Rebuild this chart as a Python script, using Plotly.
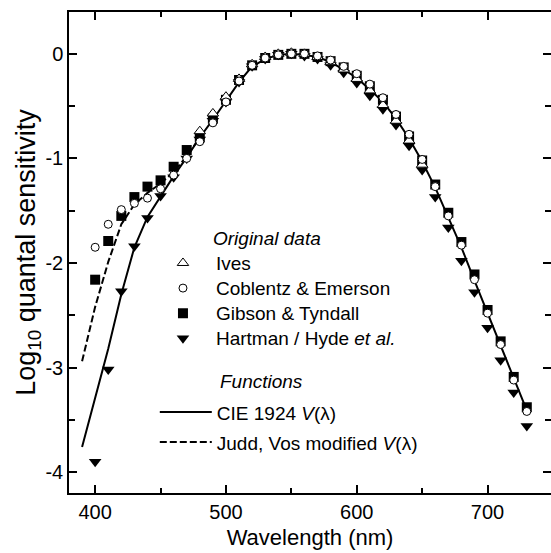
import plotly.graph_objects as go

# ---------------- data ----------------
wl_fn = list(range(390, 740, 10))
cie_1924 = [-3.76, -3.30, -2.82, -2.30, -1.85, -1.56, -1.36, -1.17, -0.99, -0.80,
            -0.63, -0.45, -0.27, -0.12, -0.05, -0.01, 0.00, -0.01, -0.03, -0.08,
            -0.15, -0.23, -0.34, -0.46, -0.62, -0.81, -1.03, -1.28, -1.57, -1.85,
            -2.17, -2.48, -2.78, -3.09, -3.41]

wl_judd = list(range(390, 490, 10))
judd_vos = [-2.94, -2.42, -1.99, -1.63, -1.44, -1.33, -1.24, -1.13, -0.98, -0.80]

wl_ives = list(range(480, 660, 10))
ives = [-0.74, -0.57, -0.41, -0.24, -0.10, -0.03, 0.00, 0.01, 0.00, -0.03,
        -0.08, -0.15, -0.24, -0.35, -0.49, -0.64, -0.83, -1.06]

wl_data = list(range(400, 740, 10))
coblentz = [-1.85, -1.63, -1.49, -1.43, -1.38, -1.29, -1.16, -1.00, -0.84, -0.66,
            -0.46, -0.26, -0.11, -0.04, -0.01, 0.00, 0.00, -0.02, -0.06, -0.12,
            -0.19, -0.29, -0.42, -0.58, -0.77, -1.01, -1.27, -1.55, -1.83, -2.16,
            -2.48, -2.78, -3.12, -3.42]
gibson = [-2.16, -1.79, -1.55, -1.37, -1.27, -1.21, -1.08, -0.92, -0.80, -0.62,
          -0.44, -0.25, -0.11, -0.04, -0.01, 0.00, 0.00, -0.03, -0.07, -0.13,
          -0.21, -0.31, -0.44, -0.60, -0.79, -1.02, -1.25, -1.52, -1.80, -2.11,
          -2.45, -2.75, -3.09, -3.38]
hartman = [-3.90, -3.02, -2.27, -1.84, -1.57, -1.36, -1.18, -1.00, -0.82, -0.64,
           -0.46, -0.27, -0.12, -0.05, -0.01, 0.00, -0.02, -0.05, -0.11, -0.18,
           -0.28, -0.40, -0.53, -0.68, -0.88, -1.11, -1.37, -1.66, -1.98, -2.28,
           -2.62, -2.93, -3.24, -3.56]

x_ticks = [400, 500, 600, 700]
y_ticks = [0, -1, -2, -3, -4]
y_ticktext = ["0", "-1", "-2", "-3", "-4"]

FONT = "Liberation Sans, Arial, Helvetica, sans-serif"


def big(t):
    return '<span style="font-size:19px">' + t + '</span>'


fig = go.Figure()

fig.add_trace(go.Scatter(x=wl_fn, y=cie_1924, mode="lines",
                         line=dict(color="black", width=2),
                         name=big("CIE 1924 <i>V</i>(λ)"), legend="legend2", legendrank=1))
fig.add_trace(go.Scatter(x=wl_judd, y=judd_vos, mode="lines",
                         line=dict(color="black", width=2, dash="7px,3px"),
                         name=big("Judd, Vos modified <i>V</i>(λ)"), legend="legend2",
                         legendrank=2))
fig.add_trace(go.Scatter(x=wl_data, y=gibson, mode="markers",
                         marker=dict(symbol="square", size=10, color="black",
                                     line=dict(width=0)),
                         name=big("Gibson & Tyndall"), legend="legend", legendrank=3))
fig.add_trace(go.Scatter(x=wl_data, y=hartman, mode="markers",
                         marker=dict(symbol="triangle-down", size=11, color="black",
                                     line=dict(width=0)),
                         name=big("Hartman / Hyde <i>et al.</i>"), legend="legend",
                         legendrank=4))
fig.add_trace(go.Scatter(x=wl_ives, y=ives, mode="markers",
                         marker=dict(symbol="triangle-up", size=10, color="white",
                                     line=dict(color="black", width=1)),
                         name=big("Ives"), legend="legend", legendrank=1))
fig.add_trace(go.Scatter(x=wl_data, y=coblentz, mode="markers", yaxis="y2",
                         marker=dict(symbol="circle", size=8, color="white",
                                     line=dict(color="black", width=1)),
                         name=big("Coblentz & Emerson"), legend="legend", legendrank=2))

axis_common = dict(showgrid=False, zeroline=False, ticks="inside",
                   tickcolor="black", tickwidth=1.5, ticklen=8,
                   tickfont=dict(family=FONT, size=20, color="black"))

fig.update_layout(
    width=551, height=553,
    margin=dict(l=69, r=0, t=12, b=60),
    paper_bgcolor="white", plot_bgcolor="white",
    font=dict(family=FONT, color="black"),
    xaxis=dict(range=[380, 748.5], tickmode="array", tickvals=x_ticks,
               showline=True, linecolor="black", linewidth=1.5, mirror="ticks",
               minor=dict(ticks="inside", ticklen=5, tickwidth=1.5, tickcolor="black",
                          tickmode="linear", tick0=0, dtick=50),
               title=dict(text="Wavelength (nm)", font=dict(family=FONT, size=22),
                          standoff=8),
               **axis_common),
    yaxis=dict(range=[-4.2, 0.4], tickmode="array", tickvals=y_ticks,
               ticktext=y_ticktext, showline=True, linecolor="black",
               linewidth=1.5, mirror=False,
               minor=dict(ticks="inside", ticklen=6, tickwidth=1.5, tickcolor="black",
                          tickmode="linear", tick0=0, dtick=0.5),
               title=dict(text="Log<sub>10</sub> quantal sensitivity",
                          font=dict(family=FONT, size=27), standoff=2),
               **axis_common),
    yaxis2=dict(range=[-4.2, 0.4], overlaying="y", side="right", anchor="x",
                tickmode="array", tickvals=y_ticks, showticklabels=False,
                showline=False, showgrid=False, zeroline=False,
                ticks="inside", tickcolor="black", tickwidth=1.5, ticklen=8,
                minor=dict(ticks="inside", ticklen=6, tickwidth=1.5, tickcolor="black",
                           tickmode="linear", tick0=0, dtick=0.5)),
    legend=dict(x=0.168, y=0.5147, xanchor="left", yanchor="top",
                bgcolor="rgba(0,0,0,0)", borderwidth=0, itemwidth=56,
                font=dict(family=FONT, size=17, color="black")),
    legend2=dict(x=0.178, y=0.21, xanchor="left", yanchor="top",
                 bgcolor="rgba(0,0,0,0)", borderwidth=0, itemwidth=52,
                 font=dict(family=FONT, size=20.8, color="black")),
    annotations=[
        dict(text="<i>Original data</i>", xref="paper", yref="paper",
             x=0.2946, y=0.530, xanchor="left", yanchor="middle", showarrow=False,
             font=dict(family=FONT, size=19, color="black")),
        dict(text="<i>Functions</i>", xref="paper", yref="paper",
             x=0.3091, y=0.2308, xanchor="left", yanchor="middle", showarrow=False,
             font=dict(family=FONT, size=19, color="black")),
    ],
)

fig.write_html("out.html")
